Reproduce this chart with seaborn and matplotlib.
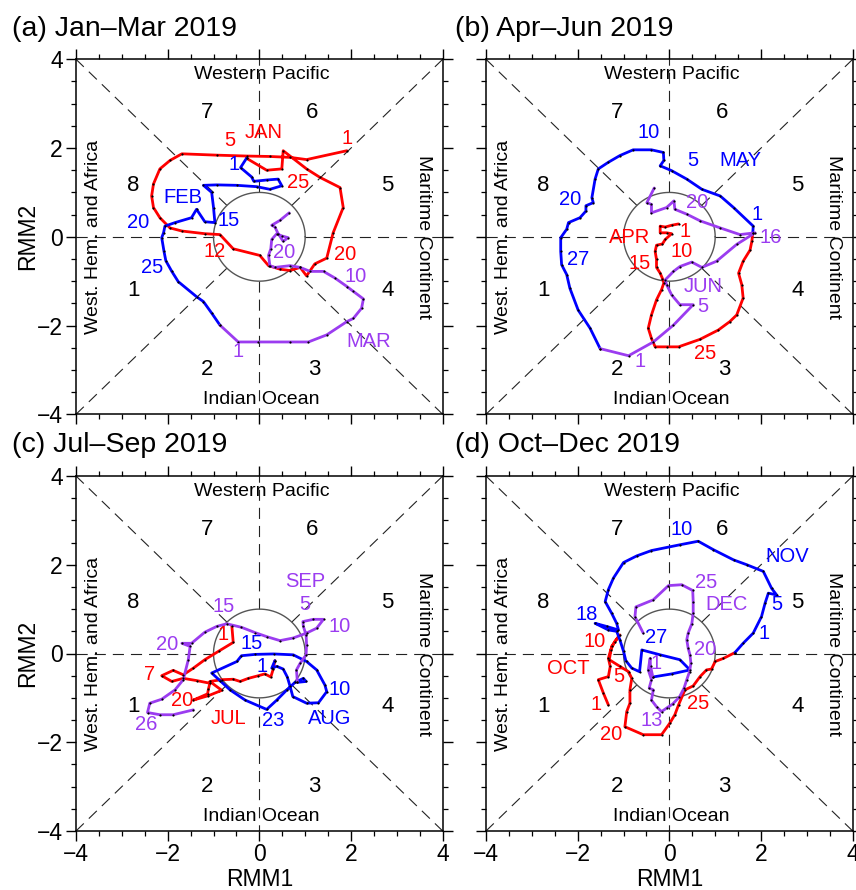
import numpy as np
import matplotlib
matplotlib.use("Agg")
import matplotlib.pyplot as plt
from matplotlib.ticker import MultipleLocator
import seaborn as sns

# ---------------- data (RMM1, RMM2 daily trajectories) ----------------
jan_rmm1 = [1.91, 1.03, 0.67, 0.23, -0.28, -0.93, -1.69, -1.95, -2.17, -2.31, -2.35, -2.31, -2.17, -1.95, -1.69, -1.19, -0.86, -0.57, 0.01, 0.20, 0.45, 0.67, 0.89, 1.03, 1.21, 1.47, 1.61, 1.83, 1.76, 1.32, 1.03, 0.52, 0.49, 0.16, -0.28]
jan_rmm2 = [1.94, 1.74, 1.79, 1.81, 1.82, 1.84, 1.87, 1.72, 1.53, 1.19, 0.92, 0.66, 0.43, 0.20, 0.13, 0.07, 0.05, -0.27, -0.42, -0.65, -0.73, -0.76, -0.69, -0.88, -0.61, -0.48, 0.09, 0.66, 1.11, 1.34, 1.53, 1.94, 1.53, 1.50, 1.77]
feb_rmm1 = [-0.28, -0.41, -0.17, -0.12, 0.16, 0.41, 0.49, 0.23, -0.06, -0.49, -0.93, -1.22, -1.04, -1.00, -0.97, -1.19, -1.37, -1.48, -1.84, -2.06, -2.09, -2.13, -2.08, -2.04, -1.91, -1.77, -1.37, -1.22, -1.04, -0.86]
feb_rmm2 = [1.77, 1.56, 1.35, 1.25, 1.28, 1.30, 1.15, 1.07, 1.13, 1.16, 1.17, 1.16, 1.00, 0.66, 0.32, 0.34, 0.62, 0.43, 0.32, 0.24, 0.09, -0.02, -0.33, -0.54, -0.78, -1.01, -1.35, -1.46, -1.72, -1.99]
mar_rmm1 = [-0.86, -0.46, -0.02, 0.67, 1.07, 1.47, 1.91, 2.05, 2.23, 2.27, 2.05, 1.91, 1.65, 1.40, 1.11, 0.89, 0.67, 0.34, 0.23, 0.20, 0.25, 0.27, 0.38, 0.49, 0.63, 0.52, 0.41, 0.34, 0.27, 0.45, 0.65]
mar_rmm2 = [-1.99, -2.37, -2.37, -2.37, -2.37, -2.21, -1.91, -1.84, -1.61, -1.40, -1.23, -1.12, -0.93, -0.78, -0.78, -0.69, -0.65, -0.69, -0.65, -0.42, -0.27, -0.06, 0.07, 0.02, -0.02, -0.10, 0.07, 0.22, 0.26, 0.37, 0.54]

apr_rmm1 = [0.20, 0.05, -0.09, -0.20, -0.20, -0.06, 0.05, -0.09, -0.15, -0.28, -0.31, -0.28, -0.28, -0.20, -0.15, -0.12, -0.17, -0.28, -0.39, -0.46, -0.39, -0.31, -0.06, 0.20, 0.67, 1.07, 1.32, 1.47, 1.61, 1.58, 1.51, 1.61, 1.76, 1.80, 1.82]
apr_rmm2 = [0.29, 0.26, 0.22, 0.24, 0.09, 0.09, 0.07, -0.06, -0.16, -0.19, -0.33, -0.51, -0.69, -0.82, -0.94, -1.04, -1.19, -1.42, -1.76, -2.06, -2.29, -2.48, -2.48, -2.48, -2.31, -2.10, -1.91, -1.76, -1.38, -1.08, -0.82, -0.55, -0.30, -0.10, 0.09]
may_rmm1 = [1.82, 1.83, 1.40, 1.11, 0.71, 0.38, 0.05, -0.20, -0.12, -0.13, -0.39, -0.79, -1.08, -1.33, -1.55, -1.62, -1.69, -1.66, -1.82, -1.82, -1.95, -2.20, -2.24, -2.37, -2.37, -2.35, -2.24, -2.17, -1.99, -1.73, -1.51]
may_rmm2 = [0.09, 0.24, 0.66, 0.92, 1.07, 1.30, 1.49, 1.60, 1.72, 1.90, 1.96, 1.96, 1.83, 1.68, 1.53, 1.30, 0.88, 0.77, 0.70, 0.58, 0.43, 0.32, 0.17, -0.02, -0.33, -0.63, -0.85, -1.16, -1.65, -2.06, -2.52]
jun_rmm1 = [-1.51, -0.89, -0.35, 0.09, 0.52, 0.23, 0.05, -0.06, -0.09, 0.09, 0.23, 0.49, 0.71, 1.03, 1.47, 1.87, 1.54, 1.11, 0.67, 0.38, 0.12, 0.10, -0.06, -0.39, -0.39, -0.49, -0.33]
jun_rmm2 = [-2.52, -2.68, -2.37, -1.99, -1.53, -1.53, -1.31, -1.08, -0.97, -0.78, -0.67, -0.57, -0.69, -0.55, -0.17, 0.09, 0.05, 0.20, 0.36, 0.51, 0.62, 0.81, 0.66, 0.54, 0.73, 0.77, 1.10]

jul_rmm1 = [-0.60, -0.57, -0.89, -1.19, -1.44, -1.66, -1.88, -2.13, -1.91, -1.66, -1.37, -1.08, -1.11, -1.13, -1.44, -1.11, -0.82, -1.08, -0.82, -0.57, -0.42, -0.24, -0.02, 0.12, 0.25, 0.30, 0.34]
jul_rmm2 = [0.62, 0.25, 0.05, -0.14, -0.33, -0.48, -0.38, -0.50, -0.63, -0.56, -0.61, -0.67, -0.80, -0.91, -1.05, -0.95, -0.83, -0.63, -0.59, -0.58, -0.63, -0.56, -0.50, -0.46, -0.53, -0.36, -0.16]
aug_rmm1 = [0.34, 0.27, 0.38, 0.52, 0.61, 0.67, 0.73, 1.03, 1.29, 1.47, 1.43, 1.25, 1.03, 0.74, 0.31, -0.09, -0.39, -0.49, -1.04, -0.86, -0.64, -0.31, 0.16, 0.38, 0.60, 0.78, 0.96, 1.02, 0.83]
aug_rmm2 = [-0.16, -0.33, -0.29, -0.35, -0.53, -0.74, -0.97, -1.12, -1.11, -0.86, -0.71, -0.37, -0.18, -0.03, -0.01, -0.02, -0.05, -0.18, -0.44, -0.61, -0.82, -1.05, -1.26, -1.05, -0.82, -0.65, -0.56, -0.63, -0.65]
sep_rmm1 = [0.83, 0.81, 0.89, 1.02, 1.03, 1.02, 0.96, 0.95, 1.18, 1.40, 1.25, 1.03, 0.74, 0.45, 0.16, -0.09, -0.39, -0.71, -0.93, -1.19, -1.48, -1.69, -1.51, -1.55, -1.66, -1.84, -2.13, -2.39, -2.44, -2.17, -1.88, -1.44]
sep_rmm2 = [-0.65, -0.37, -0.22, -0.03, 0.20, 0.42, 0.61, 0.72, 0.77, 0.77, 0.57, 0.46, 0.35, 0.29, 0.38, 0.47, 0.59, 0.67, 0.61, 0.48, 0.23, 0.23, 0.16, -0.14, -0.59, -0.82, -1.03, -1.12, -1.33, -1.38, -1.38, -1.27]

oct_rmm1 = [-1.33, -1.44, -1.55, -1.33, -1.29, -1.33, -1.28, -1.19, -1.08, -1.26, -1.31, -1.08, -0.89, -0.82, -0.86, -0.86, -0.93, -0.97, -0.57, -0.17, 0.01, 0.12, 0.20, 0.34, 0.52, 0.67, 0.81, 0.92, 1.00, 1.18, 1.43]
oct_rmm2 = [-1.16, -0.89, -0.59, -0.52, -0.29, -0.11, 0.08, 0.27, 0.42, 0.16, -0.14, -0.29, -0.41, -0.56, -0.82, -1.12, -1.31, -1.65, -1.83, -1.83, -1.57, -1.38, -1.16, -0.82, -0.73, -0.52, -0.37, -0.35, -0.18, -0.11, 0.02]
nov_rmm1 = [1.43, 1.61, 1.83, 2.01, 2.09, 2.16, 2.34, 2.23, 2.05, 1.69, 1.40, 0.96, 0.63, 0.23, -0.39, -0.71, -1.00, -1.22, -1.33, -1.40, -1.26, -1.15, -1.11, -1.37, -1.62, -1.33, -1.15, -1.08, -1.00, -0.95, -0.82, -0.65, -0.60, -0.20, 0.23, 0.45, 0.05, -0.36]
nov_rmm2 = [0.02, 0.23, 0.46, 0.83, 1.14, 1.36, 1.32, 1.47, 1.85, 2.00, 2.11, 2.34, 2.53, 2.45, 2.32, 2.20, 2.05, 1.70, 1.44, 1.17, 0.91, 0.68, 0.53, 0.61, 0.68, 0.53, 0.50, 0.31, 0.05, -0.16, -0.33, -0.41, 0.08, -0.03, -0.14, -0.37, -0.46, -0.53]
dec_rmm1 = [-0.36, -0.41, -0.42, -0.46, -0.39, -0.44, -0.35, -0.39, -0.28, -0.17, -0.06, 0.07, 0.22, 0.32, 0.38, 0.44, 0.47, 0.45, 0.41, 0.38, 0.41, 0.49, 0.52, 0.52, 0.51, 0.27, -0.02, -0.35, -0.73, -0.75, -0.57]
dec_rmm2 = [-0.53, -0.29, -0.11, -0.37, -0.59, -0.78, -0.82, -1.05, -1.20, -1.31, -1.23, -1.14, -0.98, -0.78, -0.59, -0.41, -0.22, -0.03, 0.12, 0.31, 0.46, 0.67, 0.91, 1.17, 1.42, 1.55, 1.53, 1.21, 1.05, 0.83, 0.46]

# day / month annotations: (text, RMM1, RMM2)
jan_labels = [("1", 1.91, 2.21), ("5", -0.64, 2.17), ("JAN", 0.09, 2.36), ("12", -0.97, -0.33), ("20", 1.87, -0.40), ("25", 0.85, 1.22)]
feb_labels = [("1", -0.55, 1.64), ("FEB", -1.66, 0.88), ("15", -0.68, 0.36), ("20", -2.64, 0.32), ("25", -2.35, -0.70)]
mar_labels = [("1", -0.46, -2.59), ("10", 2.09, -0.89), ("20", 0.54, -0.35), ("MAR", 2.38, -2.37)]
apr_labels = [("APR", -0.86, -0.02), ("1", 0.34, 0.13), ("10", 0.27, -0.33), ("15", -0.65, -0.61), ("25", 0.78, -2.63)]
may_labels = [("1", 1.91, 0.51), ("5", 0.52, 1.72), ("MAY", 1.54, 1.72), ("10", -0.46, 2.36), ("20", -2.17, 0.85), ("27", -1.99, -0.51)]
jun_labels = [("1", -0.64, -2.82), ("5", 0.74, -1.57), ("JUN", 0.74, -1.12), ("16", 2.20, -0.02), ("20", 0.60, 0.77)]
jul_labels = [("1", -0.79, 0.42), ("7", -2.40, -0.48), ("20", -1.69, -1.05), ("JUL", -0.68, -1.46)]
aug_labels = [("1", 0.05, -0.29), ("10", 1.76, -0.82), ("15", -0.17, 0.23), ("23", 0.31, -1.50), ("AUG", 1.54, -1.46)]
sep_labels = [("SEP", 1.00, 1.62), ("5", 1.00, 1.10), ("10", 1.76, 0.61), ("15", -0.79, 1.06), ("20", -2.02, 0.20), ("26", -2.46, -1.61)]
oct_labels = [("OCT", -2.20, -0.33), ("1", -1.59, -1.16), ("5", -1.11, -0.52), ("10", -1.62, 0.27), ("20", -1.26, -1.83), ("25", 0.63, -1.12)]
nov_labels = [("1", 2.07, 0.46), ("5", 2.34, 1.10), ("NOV", 2.56, 2.19), ("10", 0.27, 2.79), ("18", -1.80, 0.87), ("27", -0.28, 0.35)]
dec_labels = [("1", -0.28, -0.22), ("13", -0.39, -1.50), ("20", 0.78, 0.08), ("25", 0.81, 1.59), ("DEC", 1.25, 1.10)]

phase_labels = [("1", -2.75, -1.2), ("2", -1.15, -3.0), ("3", 1.2, -3.0), ("4", 2.8, -1.2),
                ("5", 2.8, 1.15), ("6", 1.15, 2.8), ("7", -1.15, 2.8), ("8", -2.75, 1.15)]
region_labels = [("Western Pacific", 0.05, 3.65, 0), ("Indian Ocean", 0.05, -3.67, 0),
                 ("West. Hem. and Africa", -3.62, 0.0, 90), ("Maritime Continent", 3.58, 0.0, 270)]
ticks = [-4, -2, 0, 2, 4]

panel_titles = ["(a) Jan\u2013Mar 2019", "(b) Apr\u2013Jun 2019", "(c) Jul\u2013Sep 2019", "(d) Oct\u2013Dec 2019"]

# ---------------- style ----------------
sns.set_theme(style="ticks")
plt.rcParams['font.family'] = ['Liberation Sans', 'DejaVu Sans']
plt.rcParams['axes.unicode_minus'] = True

RED, BLUE, PURPLE = "#FF0000", "#0000FF", "#9B3CF0"
month_colors = [RED, BLUE, PURPLE]

panels = [
    [(jan_rmm1, jan_rmm2, jan_labels), (feb_rmm1, feb_rmm2, feb_labels), (mar_rmm1, mar_rmm2, mar_labels)],
    [(apr_rmm1, apr_rmm2, apr_labels), (may_rmm1, may_rmm2, may_labels), (jun_rmm1, jun_rmm2, jun_labels)],
    [(jul_rmm1, jul_rmm2, jul_labels), (aug_rmm1, aug_rmm2, aug_labels), (sep_rmm1, sep_rmm2, sep_labels)],
    [(oct_rmm1, oct_rmm2, oct_labels), (nov_rmm1, nov_rmm2, nov_labels), (dec_rmm1, dec_rmm2, dec_labels)],
]

W, H = 856, 890
fig = plt.figure(figsize=(W / 100, H / 100), dpi=100)
fig.patch.set_facecolor("white")

ax_w, ax_h = 366.7, 355.0
lefts = [76, 486]
tops = [59.3, 476.0]
title_x = [11.7, 455.0]
title_base = [36.0, 452.5]

for k in range(4):
    r, c = divmod(k, 2)
    ax = fig.add_axes([lefts[c] / W, 1 - (tops[r] + ax_h) / H, ax_w / W, ax_h / H])
    ax.set_facecolor("white")

    # dashed phase boundaries (outside unit circle) and circle
    for ang in np.arange(8) * np.pi / 4:
        cx, cy = np.cos(ang), np.sin(ang)
        s = 4.0 / max(abs(cx), abs(cy))
        ax.plot([cx, cx * s], [cy, cy * s], color="#222222", lw=0.8,
                dashes=(10, 6.3), zorder=1)
    th = np.linspace(0, 2 * np.pi, 300)
    ax.plot(np.cos(th), np.sin(th), color="#555555", lw=1.0, zorder=1)

    for (txt, x, y) in phase_labels:
        ax.text(x, y, txt, fontsize=16, ha="center", va="center", color="black", zorder=2)
    for (txt, x, y, rot) in region_labels:
        ax.text(x, y, txt, fontsize=14, ha="center", va="center", rotation=rot,
                color="black", zorder=2)

    for m, (xs, ys, labs) in enumerate(panels[k]):
        col = month_colors[m]
        sns.lineplot(x=xs, y=ys, sort=False, estimator=None, color=col, lw=2.0,
                     ax=ax, zorder=3)
        sns.scatterplot(x=xs, y=ys, color="black", s=2.5, linewidth=0, ax=ax, zorder=4)
        for (txt, x, y) in labs:
            ax.text(x, y, txt, fontsize=14.5, color=col, ha="center", va="center", zorder=5)

    ax.set_xlim(-4, 4)
    ax.set_ylim(-4, 4)
    ax.set_xticks(ticks)
    ax.set_yticks(ticks)
    ax.xaxis.set_minor_locator(MultipleLocator(0.5))
    ax.yaxis.set_minor_locator(MultipleLocator(0.5))
    ax.tick_params(which="major", direction="out", length=7, width=1.0, color="black",
                   top=True, right=True, labelsize=16.5, labelcolor="black")
    ax.tick_params(which="minor", direction="out", length=3.5, width=0.9, color="black",
                   top=True, right=True)
    ax.tick_params(axis="x", pad=1.5)
    ax.tick_params(axis="y", pad=2.5)
    for sp in ax.spines.values():
        sp.set_color("black")
        sp.set_linewidth(1.1)
    ax.grid(False)

    if r == 0:
        ax.tick_params(labelbottom=False)
        ax.set_xlabel("")
    else:
        ax.set_xlabel("RMM1", fontsize=16.5, color="black")
        ax.xaxis.set_label_coords(0.5, -0.105)
    if c == 1:
        ax.tick_params(labelleft=False)
        ax.set_ylabel("")
    else:
        ax.set_ylabel("RMM2", fontsize=16.5, color="black")
        ax.yaxis.set_label_coords(-0.10, 0.5)

    fig.text(title_x[c] / W, 1 - title_base[r] / H, panel_titles[k], fontsize=20.5,
             ha="left", va="baseline", color="black")

fig.savefig("out.png", dpi=100, facecolor="white")
